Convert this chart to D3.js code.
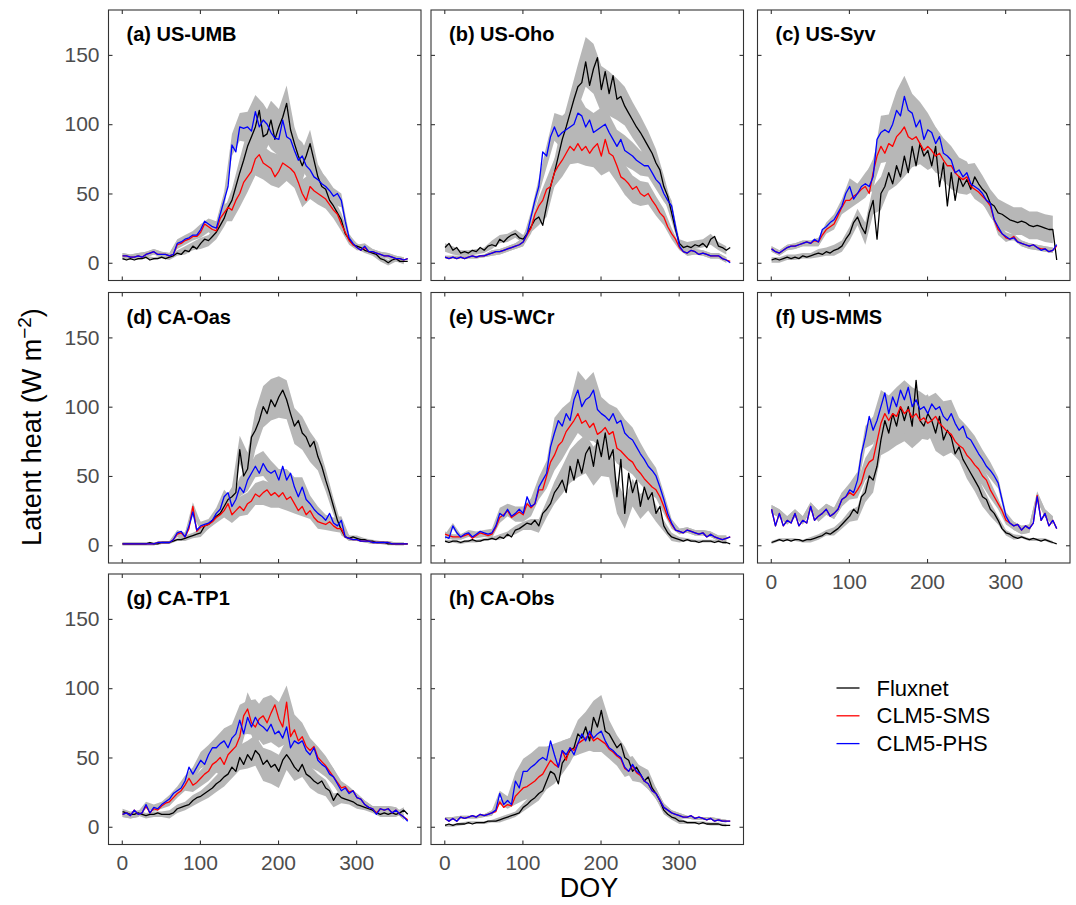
<!DOCTYPE html>
<html>
<head>
<meta charset="utf-8">
<script src="https://cdn.jsdelivr.net/npm/d3@7"></script>
<style>
  body { margin: 0; background: #fff; }
  svg { display: block; font-family: "Liberation Sans", Arial, Helvetica, sans-serif; }
</style>
</head>
<body>
<svg width="1076" height="905"></svg>
<script>
// daily values read every 5 days (DOY 1, 6, ..., 366); spread read every 10 days
const doy = d3.range(1, 367, 5);
const sdDoy = d3.range(1, 367, 10);
const xTicks = [0, 100, 200, 300];
const yTicks = [0, 50, 100, 150];
const seriesNames = ["Fluxnet", "CLM5-SMS", "CLM5-PHS"];
const seriesColors = ["#000000", "#ff0000", "#0000ff"];
const siteLabels = ["(a) US-UMB", "(b) US-Oho", "(c) US-Syv", "(d) CA-Oas", "(e) US-WCr", "(f) US-MMS", "(g) CA-TP1", "(h) CA-Obs"];

const umbFlux = [3,2,3,2,3,3,4,2,3,3,4,3, 4,5,7,6,9,8,12,10, 14,17,16,19,22,27,32,40,45,55, 65,74,84,91,98,110,91,93,103,89, 98,105,115,96,86,77,70,77,86,74, 62,55,53,45,41,36,31,21,17,13, 12,11,9,8,7,6,3,2,0,2, 3,1,1,1];
const umbSms = [5,5,4,4,5,4,6,7,8,6,6,6, 5,6,13,14,16,17,19,19, 22,28,26,24,23,32,36,40,38,45, 50,58,62,66,75,78,72,70,68,62, 66,72,70,68,65,58,50,45,55,52, 50,48,46,42,38,35,28,22,16,13, 11,9,11,8,8,7,6,5,5,4, 3,3,2,3];
const umbPhs = [5,5,4,4,5,4,6,7,8,6,6,6, 5,6,14,15,17,18,20,20, 24,30,28,26,25,35,45,55,85,80, 98,97,98,95,109,98,103,100,94,90, 89,103,91,89,81,74,77,70,67,62, 60,57,55,52,48,50,45,30,18,14, 11,9,12,8,8,7,6,5,5,4, 3,3,2,3];
const umbSdFlux = [1,1,1,1,1,1,2,2,3,3,4,4,5,6,8,10,12,13,14,14,13,13,12,11,10,9,8,6,5,3,2,2,2,2,2,2,2];
const umbSdModel = [2,2,2,2,2,2,2,3,3,3,4,4,5,6,8,10,11,12,12,12,12,11,11,10,9,8,7,6,5,3,2,2,2,2,2,2,2];

const ohoFlux = [11,14,9,11,7,8,7,9,8,11,9,12, 13,12,17,15,18,20,21,18, 17,21,26,31,33,27,41,55,65,77, 89,98,108,118,127,130,145,128,140,148, 125,138,122,135,118,120,113,108,103,98, 94,89,84,79,72,67,55,48,36,24, 14,11,12,11,13,12,14,11,17,19, 12,11,9,11];
const ohoSms = [4,3,4,3,4,3,4,5,4,5,5,6, 7,8,8,9,10,11,12,13, 15,20,25,35,41,45,53,55,65,70, 74,79,84,81,86,81,84,79,83,86, 77,89,79,77,70,62,60,57,53,55, 50,48,50,45,41,36,33,26,21,17, 11,8,7,9,8,6,7,6,5,5, 5,3,2,1];
const ohoPhs = [4,3,4,3,4,3,4,5,4,5,5,6, 7,8,8,9,10,11,12,13, 15,21,33,45,55,80,77,91,98,91, 94,96,98,100,108,106,98,103,94,96, 98,100,94,89,84,89,81,79,77,74, 72,70,70,65,60,57,50,45,41,26, 12,8,7,9,8,6,7,6,5,5, 5,3,2,0];
const ohoSdFlux = [3,3,2,2,2,2,3,3,3,3,3,4,6,8,10,12,14,16,18,18,17,16,15,14,13,12,11,10,8,6,3,3,3,3,4,3,3];
const ohoSdModel = [1,1,1,1,1,1,2,2,2,2,3,4,6,8,10,12,13,14,14,14,14,13,12,11,10,9,8,7,6,4,2,2,2,2,2,2,2];

const syvFlux = [2,3,2,3,4,3,4,3,5,4,5,6, 7,6,8,7,9,10,12,17, 21,29,33,26,21,36,45,17,50,55, 65,57,70,62,77,65,84,70,86,77, 81,70,84,55,72,41,65,45,62,55, 60,53,62,57,53,50,43,41,36,35, 33,31,30,29,30,29,27,26,27,26, 25,24,24,2];
const syvSms = [10,8,7,9,11,12,12,13,14,15,14,16, 15,20,24,26,28,34,40,45, 45,48,50,53,55,50,65,77,84,79, 86,84,91,94,98,91,89,91,86,81, 84,81,77,79,74,70,70,65,62,60, 62,55,53,51,48,45,41,31,24,21, 18,17,19,15,14,13,12,13,11,10, 10,8,9,12];
const syvPhs = [10,8,7,9,11,12,12,13,14,15,14,17, 15,24,26,29,31,36,41,50, 55,46,50,55,57,55,62,89,94,96, 94,100,110,106,120,110,108,98,103,89, 96,94,86,91,79,77,74,65,67,62, 65,57,55,53,50,45,43,31,26,21, 19,17,18,15,14,13,12,13,11,9, 10,8,9,13];
const syvSdFlux = [2,2,2,2,2,2,3,3,4,4,5,6,8,10,12,13,14,15,15,15,14,14,13,12,12,11,10,10,10,10,10,10,10,10,10,10,10];
const syvSdModel = [2,2,2,2,2,2,3,3,4,5,6,7,8,10,12,13,14,15,14,13,12,12,11,10,9,8,7,6,5,4,3,2,2,2,2,2,2];

const oasFlux = [1,1,1,1,1,1,1,2,1,1,2,2, 2,3,4,4,5,6,7,8, 9,14,15,18,21,23,28,33,35,38, 69,50,55,78,83,90,100,95,105,100, 107,112,105,95,86,90,81,78,71,75, 64,57,47,38,28,18,11,6,5,6, 5,4,4,3,3,2,2,2,1,1, 1,1,1,1];
const oasSms = [1,1,1,1,1,1,1,1,1,2,2,2, 2,4,8,9,6,12,28,10, 13,14,15,17,20,22,25,30,22,25, 28,25,30,32,37,35,38,40,36,38, 35,38,33,35,30,25,28,22,25,20, 17,16,15,17,14,12,12,6,5,4, 4,3,3,3,2,2,2,2,2,1, 1,1,1,1];
const oasPhs = [1,1,1,1,1,1,1,1,1,2,2,2, 2,4,9,10,6,14,24,11, 14,15,16,18,23,26,35,38,28,33, 42,38,47,52,57,52,59,54,52,54, 47,57,47,52,42,35,42,33,30,26, 23,21,18,23,16,14,18,6,5,4, 4,3,3,3,2,2,2,2,2,1, 1,1,1,1];
const oasSdFlux = [1,1,1,1,1,1,1,1,2,2,3,3,4,5,7,10,12,14,15,15,15,14,13,12,11,10,8,6,4,2,2,1,1,1,1,1,1];
const oasSdModel = [1,1,1,1,1,1,1,2,3,3,3,3,4,5,6,7,8,8,9,9,8,8,7,7,6,5,4,4,3,2,1,1,1,1,1,1,1];

const wcrFlux = [3,2,3,3,2,3,3,4,3,3,4,4, 5,4,6,5,8,6,11,12, 14,16,15,18,14,23,26,30,38,42, 47,38,57,47,62,52,66,71,57,76, 64,81,62,69,35,62,23,52,38,47, 28,42,33,38,23,28,14,9,6,5, 4,3,4,3,3,2,3,3,3,2, 3,2,2,1];
const wcrSms = [8,7,6,6,6,7,8,5,7,9,8,7, 8,13,20,22,25,20,22,24, 22,30,27,30,40,40,50,60,65,72, 75,82,86,90,95,88,90,85,88,80, 82,85,80,82,70,68,65,62,60,55, 52,48,45,42,40,35,28,20,15,11, 10,9,11,10,9,8,9,6,8,6, 5,4,5,6];
const wcrPhs = [6,5,14,9,6,8,9,6,8,10,9,8, 9,14,23,21,26,21,23,26, 23,35,28,30,42,47,52,71,81,90, 86,95,90,105,112,100,105,107,112,98, 95,93,90,95,88,90,81,78,76,71, 66,62,57,54,50,42,33,23,16,11, 10,9,11,10,9,8,9,6,8,6, 5,4,5,6];
const wcrSdFlux = [1,1,1,1,1,1,1,2,2,3,3,4,5,6,8,10,12,13,14,14,14,13,12,11,10,9,8,6,4,3,2,1,1,1,1,1,1];
const wcrSdModel = [2,2,2,2,2,2,3,4,4,5,5,6,7,9,11,13,14,14,14,13,12,12,11,10,9,8,7,6,5,3,2,2,2,2,2,2,2];

const mmsFlux = [2,3,4,3,4,3,4,4,3,4,4,5, 6,7,9,8,10,12,15,18, 21,26,23,35,38,50,47,57,76,90, 81,95,86,100,90,100,86,119,90,86, 95,90,81,93,76,83,78,66,71,62, 57,52,47,42,35,33,26,23,18,12, 9,8,6,5,6,5,4,5,4,3, 4,3,2,1];
const mmsSms = [26,14,23,14,18,16,23,14,18,16,28,18, 21,23,26,21,23,26,33,35, 38,36,40,45,55,60,62,75,88,95, 90,95,93,100,95,98,92,95,90,92, 88,90,93,88,85,82,80,75,72,70, 65,62,58,55,50,47,40,35,30,25, 18,16,14,15,11,14,12,16,36,18, 23,14,18,12];
const mmsPhs = [26,14,23,14,18,16,23,14,18,16,28,18, 21,23,26,21,23,26,33,35, 40,38,47,66,78,93,83,90,100,110, 95,107,100,112,105,114,100,105,98,100, 95,102,98,100,93,90,95,88,83,86, 78,76,71,66,62,57,54,50,45,33, 21,16,14,15,11,14,12,16,35,18, 23,14,18,12];
const mmsSdFlux = [1,1,1,1,1,2,2,2,3,3,4,5,7,9,11,13,14,15,16,15,14,13,12,11,10,9,8,7,5,3,2,2,1,1,1,1,1];
const mmsSdModel = [3,3,3,3,3,3,4,4,4,5,5,6,8,10,12,13,14,14,14,13,12,12,11,10,9,8,8,7,6,4,3,3,3,3,3,3,3];

const tp1Flux = [11,10,9,9,10,9,8,9,9,10,9,9, 9,10,13,14,15,16,19,21, 22,24,26,28,31,33,36,38,43,40, 50,45,52,48,55,52,45,48,43,45, 40,48,52,48,43,40,45,38,36,33, 31,33,28,26,19,24,21,20,19,18, 16,15,14,13,12,10,9,10,9,10, 9,10,12,9];
const tp1Sms = [9,10,8,12,9,10,15,10,13,12,15,17, 18,21,24,26,30,35,30,32, 35,38,40,45,47,50,45,52,55,58, 65,80,85,75,72,78,80,75,82,88, 78,72,90,65,70,62,65,58,55,58, 50,47,44,40,36,32,28,29,25,26, 21,20,16,14,13,10,13,12,13,10, 12,9,7,5];
const tp1Phs = [9,10,8,12,9,10,16,10,14,13,16,18, 20,24,26,28,33,43,38,43, 48,45,52,57,57,60,62,57,64,67, 77,67,79,72,79,74,72,69,74,67, 69,64,72,57,62,60,62,55,52,57, 48,45,43,38,36,31,26,28,24,26, 21,20,16,14,13,9,13,12,13,10, 12,9,7,4];
const tp1SdFlux = [2,2,2,2,2,2,3,3,3,4,4,5,6,7,8,9,10,11,12,12,12,11,10,9,8,7,6,5,4,3,3,2,2,2,2,2,2];
const tp1SdModel = [2,2,2,2,2,2,3,3,4,5,6,7,8,9,10,11,12,13,13,13,12,12,11,10,9,8,7,6,5,4,3,3,2,2,2,2,2];

const obsFlux = [1,2,1,2,2,2,3,2,3,3,3,4, 4,4,5,6,7,8,9,10, 14,16,19,21,24,26,33,40,38,31, 46,50,55,57,67,64,72,62,79,72, 84,69,67,62,57,60,50,48,40,43, 38,33,36,28,24,19,12,9,7,6, 4,4,3,3,3,2,3,2,2,2, 2,1,1,1];
const obsSms = [6,4,6,4,7,6,7,8,7,9,8,9, 10,11,18,14,16,15,22,25, 28,29,31,33,36,38,43,48,45,43, 55,48,57,55,60,62,64,67,62,64, 62,60,56,54,51,49,42,40,44,39, 37,33,31,26,24,19,14,12,10,9, 8,7,7,8,6,7,6,5,6,4, 5,4,4,4];
const obsPhs = [6,4,6,4,7,6,7,8,7,9,8,9, 10,12,24,16,19,16,33,28, 40,40,43,45,48,50,48,62,52,43, 55,52,57,52,60,67,62,69,64,67, 69,62,57,55,52,50,43,40,45,40, 38,33,31,26,24,19,14,12,10,9, 8,7,7,8,6,7,6,5,6,4, 5,4,4,4];
const obsSdFlux = [1,1,1,1,1,1,1,2,2,2,3,4,5,6,7,8,9,10,11,12,11,10,9,8,7,6,5,4,3,2,2,1,1,1,1,1,1];
const obsSdModel = [1,1,1,1,1,1,2,2,3,6,9,10,10,10,8,7,7,8,8,8,8,7,7,6,6,5,4,4,3,2,2,1,1,1,1,1,1];

const panels = [
  [umbFlux, umbSms, umbPhs, umbSdFlux, umbSdModel],
  [ohoFlux, ohoSms, ohoPhs, ohoSdFlux, ohoSdModel],
  [syvFlux, syvSms, syvPhs, syvSdFlux, syvSdModel],
  [oasFlux, oasSms, oasPhs, oasSdFlux, oasSdModel],
  [wcrFlux, wcrSms, wcrPhs, wcrSdFlux, wcrSdModel],
  [mmsFlux, mmsSms, mmsPhs, mmsSdFlux, mmsSdModel],
  [tp1Flux, tp1Sms, tp1Phs, tp1SdFlux, tp1SdModel],
  [obsFlux, obsSms, obsPhs, obsSdFlux, obsSdModel]
].map((a, i) => ({ label: siteLabels[i], series: [a[0], a[1], a[2]], sd: [a[3], a[4], a[4]] }));

const svg = d3.select("svg");
const colLeft = [108.5, 431, 757.5];
const rowTop = [10, 292.5, 574];
const pw = 312.5, ph = 270.5;

const x = d3.scaleLinear().domain([-17, 383]).range([0, pw]);
const y = d3.scaleLinear().domain([-12.8, 182.4]).range([ph, 0]);

const line = d3.line().x((d, k) => x(doy[k])).y(d => y(d));

panels.forEach((p, i) => {
  const col = i % 3, row = Math.floor(i / 3);
  const g = svg.append("g").attr("transform", `translate(${colLeft[col]},${rowTop[row]})`);

  g.append("clipPath").attr("id", "clip" + i)
    .append("rect").attr("width", pw).attr("height", ph);
  const plot = g.append("g").attr("clip-path", `url(#clip${i})`);

  // spread ribbons, one per series, merged in one translucent layer
  const ribbons = plot.append("g").attr("opacity", 0.62);
  p.series.forEach((vals, s) => {
    const sd = p.sd[s];
    const area = d3.area()
      .x((d, k) => x(sdDoy[k]))
      .y0((d, k) => y(vals[2 * k] - d))
      .y1((d, k) => y(vals[2 * k] + d));
    ribbons.append("path").attr("d", area(sd)).attr("fill", "#8c8c8c");
  });

  p.series.forEach((vals, s) => {
    plot.append("path").attr("d", line(vals))
      .attr("fill", "none")
      .attr("stroke", seriesColors[s])
      .attr("stroke-width", 1.3)
      .attr("stroke-linejoin", "round");
  });

  const showX = row === 2 || i === 5;
  const showY = col === 0;

  const axes = [
    { ax: d3.axisBottom(x).tickValues(xTicks).tickSize(-4).tickPadding(11).tickFormat(showX ? d3.format("d") : () => ""), t: `translate(0,${ph})` },
    { ax: d3.axisTop(x).tickValues(xTicks).tickSize(-4).tickFormat(() => ""), t: "translate(0,0)" },
    { ax: d3.axisLeft(y).tickValues(yTicks).tickSize(-4).tickPadding(9).tickFormat(showY ? d3.format("d") : () => ""), t: "translate(0,0)" },
    { ax: d3.axisRight(y).tickValues(yTicks).tickSize(-4).tickFormat(() => ""), t: `translate(${pw},0)` }
  ];
  axes.forEach(a => {
    const ag = g.append("g").attr("transform", a.t).call(a.ax);
    ag.select(".domain").remove();
    ag.selectAll(".tick line").attr("stroke", "#333").attr("stroke-width", 1.1);
    ag.selectAll(".tick text").attr("fill", "#4d4d4d")
      .style("font-size", "21px")
      .style("font-family", "'Liberation Sans', Arial, Helvetica, sans-serif");
  });

  g.append("rect").attr("width", pw).attr("height", ph)
    .attr("fill", "none").attr("stroke", "#333").attr("stroke-width", 1.1);

  g.append("text").attr("x", 18).attr("y", 24)
    .attr("dominant-baseline", "central")
    .style("font-size", "20px").style("font-weight", "bold")
    .attr("fill", "#000").text(p.label);
});

// axis titles
const yTitle = svg.append("text")
  .attr("transform", "translate(41,427) rotate(-90)")
  .attr("text-anchor", "middle")
  .style("font-size", "27px").attr("fill", "#000");
yTitle.append("tspan").text("Latent heat (W m");
yTitle.append("tspan").attr("baseline-shift", "super").style("font-size", "19px").text("\u22122");
yTitle.append("tspan").text(")");

svg.append("text").attr("x", 589).attr("y", 897)
  .attr("text-anchor", "middle")
  .style("font-size", "27px").attr("fill", "#000").text("DOY");

// legend
const legend = svg.append("g").attr("transform", "translate(836.5,688)");
seriesNames.forEach((name, s) => {
  const row = legend.append("g").attr("transform", `translate(0,${s * 27.8})`);
  row.append("line").attr("x1", 0).attr("x2", 23).attr("y1", 0).attr("y2", 0)
    .attr("stroke", seriesColors[s]).attr("stroke-width", 1.3);
  row.append("text").attr("x", 40).attr("y", 0)
    .attr("dominant-baseline", "central")
    .style("font-size", "22px").attr("fill", "#000").text(name);
});
</script>
</body>
</html>
